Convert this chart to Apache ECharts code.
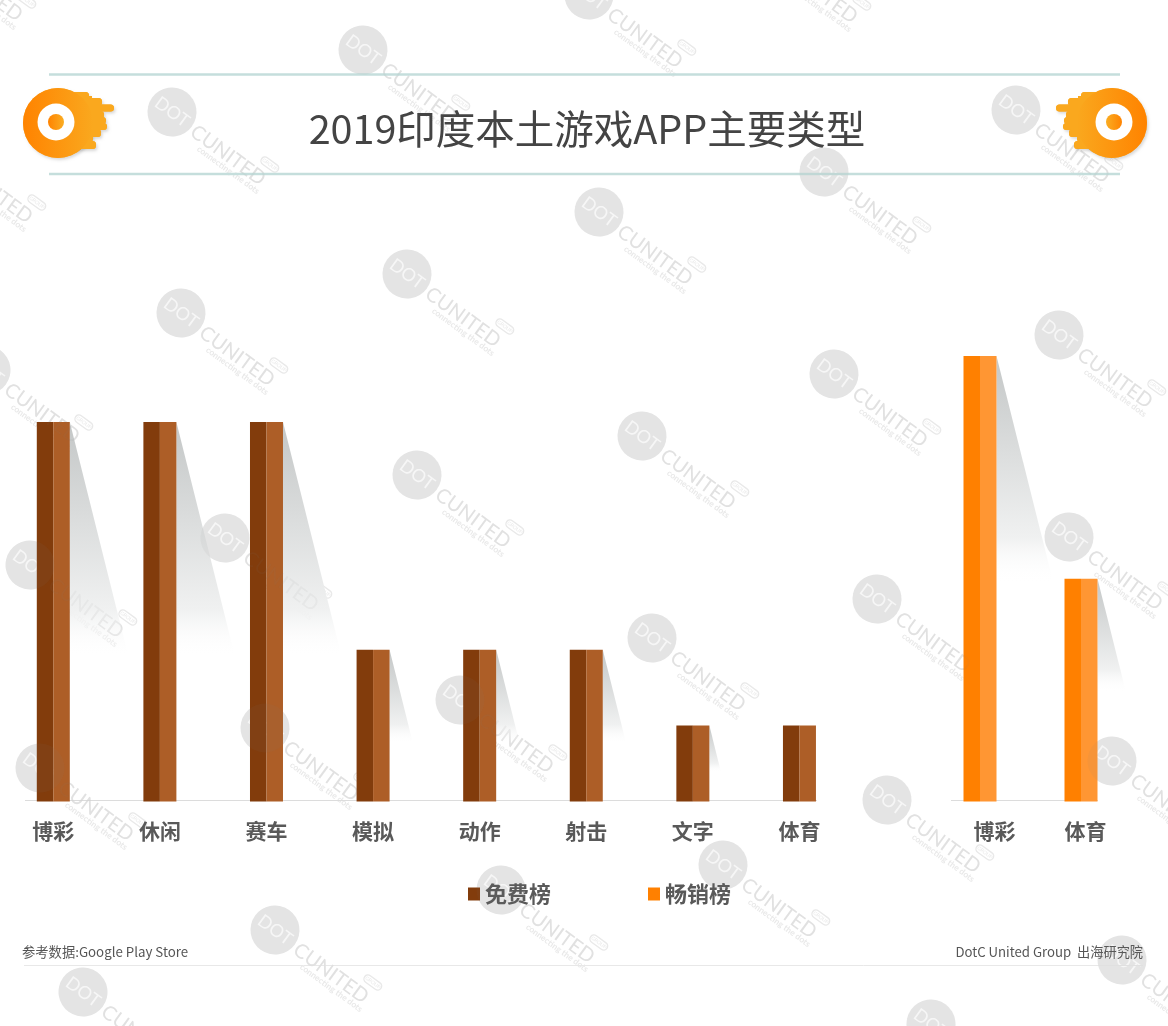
<!DOCTYPE html>
<html><head><meta charset="utf-8">
<style>html,body{margin:0;padding:0;background:#fff}#c{width:1168px;height:1026px}</style>
<script src="https://cdn.jsdelivr.net/npm/echarts@6/dist/echarts.min.js"></script>
</head><body><div id="c"></div>
<script>
const titleText = '2019印度本土游戏APP主要类型';
const sourceLeft = '参考数据:Google Play Store';
const sourceRight = 'DotC United Group  出海研究院';
const freeCategories = ['博彩','休闲','赛车','模拟','动作','射击','文字','体育'];
const freeValues = [5,5,5,2,2,2,1,1];
const freeCast = [5,5,5,2,2,2,1,null];
const paidCategories = ['博彩','体育'];
const paidValues = [6,3];
const FONT = '"Noto Sans CJK SC","Noto Sans",sans-serif';

const chart = echarts.init(document.getElementById('c'), null, {renderer:'canvas'});

function castShadow(widthRatio, lenRatio){
  return function(params, api){
    const c = api.value(0), v = api.value(1);
    if (v == null || isNaN(v)) return null;
    const top = api.coord([c, v]), base = api.coord([c, 0]);
    const h = base[1] - top[1], x = top[0] + 16.5;
    return {type:'polygon', silent:true,
      shape:{points:[[x, top[1]],[x + h*widthRatio, top[1] + h*lenRatio],[x, top[1] + h*lenRatio]]},
      style:{fill:{type:'linear',x:0,y:0,x2:0,y2:1,colorStops:[
        {offset:0,color:'rgba(196,199,199,1)'},
        {offset:.8,color:'rgba(240,241,241,1)'},
        {offset:1,color:'rgba(255,255,255,0)'}]}}};
  };
}
function bar(name, values, xi, color){
  return {type:'bar', name, data:values, xAxisIndex:xi, yAxisIndex:xi, barWidth:16.5, barGap:0,
    itemStyle:{color}, silent:true, z:3};
}
const baseLabel = {show:true, color:'#595959', fontFamily:FONT, fontWeight:'bold', fontSize:21, margin:19};
const hiddenLine = {show:false};

// decoration ------------------------------------------------------------
const markCentres = [[363,50],[589,-5],[172,112],[1016,110],[824,172],[599,212],[407,274],[181,313],[1059,335],[834,374],[642,436],[417,475],
 [30,565],[225,538],[1069,537],[877,599],[652,638],[460,700],[265,728],[40,768],[1112,761],[887,800],[723,865],[501,890],[275,930],[83,992],
 [1122,960],[931,1024],[-14,370],[-61,150],[-71,-52],[764,-50]];
const ANGLE = -36*Math.PI/180;
function markBelow(p){
  const ink = '#e9e9e9';
  return {type:'group', x:p[0], y:p[1], rotation:ANGLE, silent:true, z:0, children:[
    {type:'circle', shape:{cx:0,cy:0,r:24.5}, style:{fill:'#ececec'}, z:0},
    {type:'text', x:0, y:0, style:{text:'DOT', fill:'#fff', font:'18px Lato', align:'center', verticalAlign:'middle'}, z:0},
    {type:'text', x:27, y:2, style:{text:'CUNITED', fill:ink, font:'20px Lato', align:'left', verticalAlign:'middle'}, z:0},
    {type:'text', x:42, y:14, style:{text:'connecting the dots', fill:ink, font:'bold 8.5px Lato', align:'left', verticalAlign:'middle'}, z:0},
    {type:'rect', shape:{x:100,y:-19,width:20,height:8,r:4}, style:{fill:'none',stroke:ink,lineWidth:1.4}, z:0},
    {type:'text', x:110, y:-15, style:{text:'GROUP', fill:ink, font:'5px Lato', align:'center', verticalAlign:'middle'}, z:0}
  ]};
}
function markAbove(p){
  const ink = 'rgba(128,128,128,0.07)';
  return {type:'group', x:p[0], y:p[1], rotation:ANGLE, silent:true, z:50, children:[
    {type:'circle', shape:{cx:0,cy:0,r:24.5}, style:{fill:ink}, z:50},
    {type:'text', x:27, y:2, style:{text:'CUNITED', fill:ink, font:'20px Lato', align:'left', verticalAlign:'middle'}, z:50}
  ]};
}
function logo(groupProps){
  const streakFill = '#FAA81E';
  const streaks = [[60,92,29,7],[60,98,42,8],[60,104.5,54,7],[60,111,44,8],[60,117,46,7],[60,123,47,7],[60,129,41,8],[60,135,33,7],[60,141,36,8]];
  const shade = {shadowColor:'rgba(0,0,0,.15)',shadowBlur:3,shadowOffsetX:1.5,shadowOffsetY:2};
  return Object.assign({type:'group', silent:true, z:20, children:[
    {type:'circle', shape:{cx:58,cy:123,r:35}, style:Object.assign({fill:'#FAA81E'},shade), z:20},
    ...streaks.map(s=>({type:'rect', shape:{x:s[0],y:s[1],width:s[2],height:s[3],r:3.5}, style:Object.assign({fill:streakFill},shade), z:20})),
    ...streaks.map(s=>({type:'rect', shape:{x:s[0],y:s[1],width:s[2],height:s[3],r:3.5}, style:{fill:streakFill}, z:21})),
    {type:'rect', shape:{x:78,y:96,width:14,height:52}, style:{fill:streakFill}, z:21},
    {type:'circle', shape:{cx:58,cy:123,r:35}, style:{fill:{type:'linear',x:0,y:0,x2:1,y2:0,colorStops:[{offset:0,color:'#FF8300'},{offset:1,color:'#FAA81E'}]}}, z:22},
    {type:'circle', shape:{cx:56,cy:122,r:18.5}, style:{fill:'#fff'}, z:23},
    {type:'circle', shape:{cx:56,cy:122,r:8}, style:{fill:{type:'linear',x:0,y:0,x2:1,y2:0,colorStops:[{offset:0,color:'#FF8300'},{offset:1,color:'#FAAD22'}]}}, z:24}
  ]}, groupProps);
}
const rule = (x1,x2,y,stroke,w)=>({type:'line', shape:{x1,y1:y,x2,y2:y}, style:{stroke,lineWidth:w}, silent:true, z:1});

chart.setOption({
  animation:false,
  backgroundColor:'#fff',
  title:{show:true, text:titleText, left:582, top:104, textAlign:'center',
    textStyle:{fontFamily:FONT, fontWeight:'normal', fontSize:39.5, color:'#444'}},
  legend:{data:['免费榜','畅销榜'], selectedMode:false, left:463, top:878, itemWidth:12, itemHeight:13, itemGap:97, icon:'rect',
    textStyle:{fontFamily:FONT, fontWeight:'bold', fontSize:22, color:'#595959'}, itemStyle:{borderWidth:0}},
  grid:[
    {left:-0.85, width:853.6, top:422, height:379.5},
    {left:929.5, width:202, top:356, height:445.5},
    {left:949, width:182, top:356, height:445.5}
  ],
  xAxis:[
    {gridIndex:0, type:'category', data:freeCategories, axisLine:hiddenLine, axisTick:{show:false}, axisLabel:baseLabel},
    {gridIndex:1, type:'category', data:paidCategories, axisLine:hiddenLine, axisTick:{show:false}, axisLabel:{show:false}},
    {gridIndex:2, type:'category', data:paidCategories, axisLine:hiddenLine, axisTick:{show:false}, axisLabel:baseLabel}
  ],
  yAxis:[
    {gridIndex:0, type:'value', min:0, max:5, show:false, splitLine:{show:false}},
    {gridIndex:1, type:'value', min:0, max:6, show:false, splitLine:{show:false}},
    {gridIndex:2, type:'value', min:0, max:6, show:false, splitLine:{show:false}}
  ],
  series:[
    {type:'custom', name:'freeCast', xAxisIndex:0, yAxisIndex:0, clip:false, z:1, silent:true,
      renderItem:castShadow(0.155,0.62), data:freeCast.map((v,i)=>[i,v==null?NaN:v])},
    {type:'custom', name:'paidCast', xAxisIndex:1, yAxisIndex:1, clip:false, z:1, silent:true,
      renderItem:castShadow(0.128,0.51), data:paidValues.map((v,i)=>[i,v])},
    bar('免费榜', freeValues, 0, '#823C0C'),
    bar('免费榜亮面', freeValues, 0, '#AD5E27'),
    bar('畅销榜', paidValues, 1, '#FF8000'),
    bar('畅销榜亮面', paidValues, 1, '#FF9633')
  ],
  graphic:[
    ...markCentres.map(markBelow),
    rule(49,1120,74.5,'#C5DEDC',2.4),
    rule(49,1120,174,'#C5DEDC',2.4),
    rule(25,817,800.5,'#DCDCDC',1.2),
    rule(951,1098,800.5,'#DCDCDC',1.2),
    rule(24,1143,965.5,'#E8E8E8',1),
    logo({}),
    logo({x:1170, scaleX:-1}),
    {type:'text', x:22, y:952, silent:true, z:30, style:{text:sourceLeft, fill:'#555', font:'13.3px '+FONT, verticalAlign:'middle'}},
    {type:'text', x:1143, y:952, silent:true, z:30, style:{text:sourceRight, fill:'#555', font:'13.2px '+FONT, align:'right', verticalAlign:'middle'}},
    ...markCentres.map(markAbove)
  ]
});
</script></body></html>
